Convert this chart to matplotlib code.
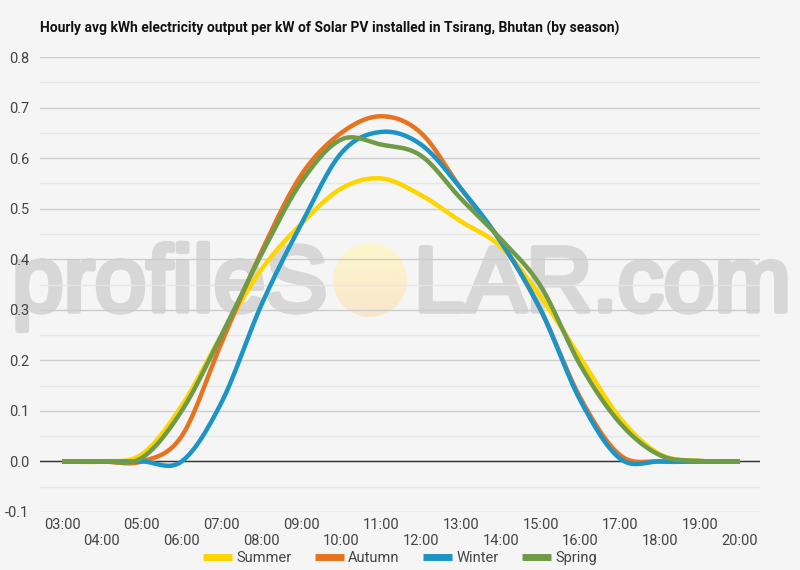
import numpy as np
import matplotlib
matplotlib.use('Agg')
import matplotlib.pyplot as plt
import matplotlib.patheffects as pe
from matplotlib.patches import Circle

# hourly values (03:00 .. 20:00)
hours = list(range(3, 21))
hour_labels = ['%02d:00' % h for h in hours]
seasons = ['Summer', 'Autumn', 'Winter', 'Spring']
summer = [0, 0, 0.014, 0.11, 0.25, 0.38, 0.47, 0.54, 0.56, 0.527, 0.475, 0.425, 0.326, 0.205, 0.085, 0.014, 0.001, 0]
autumn = [0, 0, 0, 0.05, 0.235, 0.415, 0.567, 0.65, 0.683, 0.65, 0.54, 0.435, 0.30, 0.125, 0.012, 0, 0, 0]
winter = [0, 0, 0, 0, 0.117, 0.31, 0.47, 0.61, 0.652, 0.627, 0.54, 0.435, 0.30, 0.12, 0.005, 0, 0, 0]
spring = [0, 0, 0.007, 0.10, 0.25, 0.41, 0.553, 0.637, 0.627, 0.605, 0.52, 0.44, 0.347, 0.19, 0.075, 0.012, 0.001, 0]
colors = ['#FFD500', '#E8731E', '#1D94C6', '#6F9B48']

BG = '#f5f5f5'
FONT = 'Roboto'
WM = '#d7d7d7'


def smooth(x, y, n=24):
    """Catmull-Rom spline through the points (like the 'function' curve type)."""
    x = np.asarray(x, float)
    y = np.asarray(y, float)
    # tangents
    m = np.zeros_like(y)
    m[1:-1] = (y[2:] - y[:-2]) / 2.0
    m[0] = y[1] - y[0]
    m[-1] = y[-1] - y[-2]
    xs, ys = [], []
    for i in range(len(x) - 1):
        t = np.linspace(0, 1, n, endpoint=False)
        h00 = 2 * t**3 - 3 * t**2 + 1
        h10 = t**3 - 2 * t**2 + t
        h01 = -2 * t**3 + 3 * t**2
        h11 = t**3 - t**2
        xs.append(x[i] + t * (x[i + 1] - x[i]))
        ys.append(h00 * y[i] + h10 * m[i] + h01 * y[i + 1] + h11 * m[i + 1])
    xs.append([x[-1]])
    ys.append([y[-1]])
    return np.concatenate(xs), np.concatenate(ys)


fig = plt.figure(figsize=(8, 5.7), dpi=100, facecolor=BG)

# background layer with the watermark, in pixel coords
ax_bg = fig.add_axes([0, 0, 1, 1], zorder=0)
ax_bg.set_xlim(0, 800)
ax_bg.set_ylim(570, 0)
ax_bg.axis('off')
thick = [pe.withStroke(linewidth=4, foreground=WM)]
ax_bg.text(327, 311, 'profileS', ha='right', va='baseline', fontsize=67,
           family='Liberation Sans', color=WM, path_effects=thick)
ax_bg.text(414, 311, 'LAR.com', ha='left', va='baseline', fontsize=66,
           family='Liberation Sans', color=WM, path_effects=thick)
sun = Circle((370, 280), 37, transform=ax_bg.transData)
grad = np.linspace(0, 1, 100)[:, None, None]
top = np.array([0.99, 0.97, 0.80])
bot = np.array([0.98, 0.90, 0.80])
img = top * (1 - grad) + bot * grad
im = ax_bg.imshow(img, extent=(333, 407, 317, 243), aspect='auto', zorder=3)
im.set_clip_path(sun)
ax_bg.set_xlim(0, 800)
ax_bg.set_ylim(570, 0)

# main chart
ax = fig.add_axes([0.05, 0.1018, 0.9, 0.798], zorder=1)
ax.set_facecolor('none')

for name, vals, c in zip(seasons, [summer, autumn, winter, spring], colors):
    sx, sy = smooth(hours, vals)
    ax.plot(sx, sy, color=c, lw=3.2, label=name, zorder=3, solid_capstyle='butt')

ax.set_xlim(2.448, 20.5)
ax.set_ylim(-0.1, 0.8)
ax.set_yticks(np.arange(-0.1, 0.81, 0.1))
ax.set_yticks(np.arange(-0.05, 0.8, 0.1), minor=True)
ax.set_yticklabels(['%.1f' % v for v in np.arange(-0.1, 0.81, 0.1)])
ax.grid(axis='y', which='major', color='#cccccc', lw=1)
ax.grid(axis='y', which='minor', color='#e6e6e6', lw=1)
ax.axhline(0, color='#333333', lw=1, zorder=2)
ax.set_xticks(hours)
ax.set_xticklabels([lab if i % 2 == 0 else '\n' + lab for i, lab in enumerate(hour_labels)])
ax.tick_params(axis='both', which='both', length=0, labelsize=10.5, labelcolor='#444444')
ax.tick_params(axis='x', pad=4)
ax.tick_params(axis='y', pad=8)
for lab in ax.get_xticklabels() + ax.get_yticklabels():
    lab.set_family(FONT)
for s in ax.spines.values():
    s.set_visible(False)

fig.text(0.05, 1 - 28 / 570, 'Hourly avg kWh electricity output per kW of Solar PV installed in Tsirang, Bhutan (by season)',
         ha='left', va='center', fontsize=10, fontweight='bold', family=FONT, color='#111111')

leg = fig.legend(loc='center', bbox_to_anchor=(0.5, 1 - 558 / 570), ncol=4, frameon=False,
                 handlelength=2.0, handletextpad=0.3, columnspacing=1.6,
                 prop={'family': FONT, 'size': 10.5})
for line in leg.get_lines():
    line.set_linewidth(5)
for t in leg.get_texts():
    t.set_color('#444444')

fig.savefig('out.png', dpi=100, facecolor=BG)
